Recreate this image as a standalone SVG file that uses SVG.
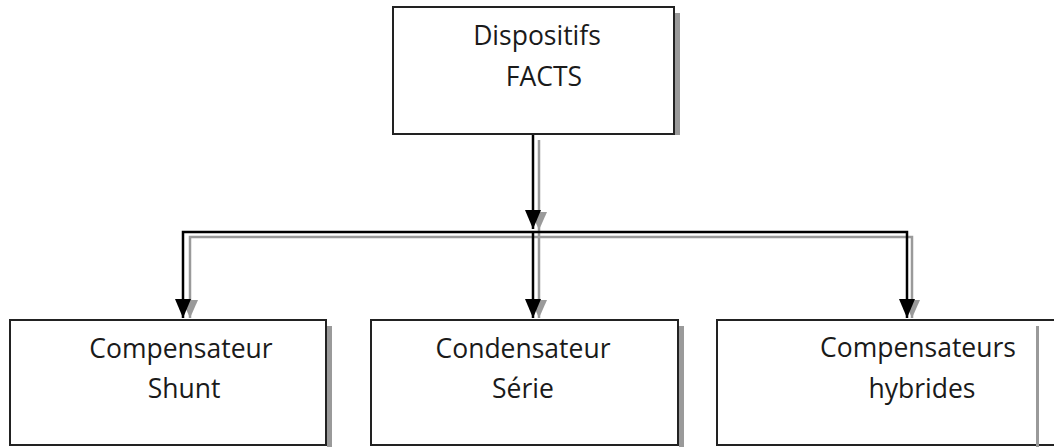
<svg xmlns="http://www.w3.org/2000/svg" width="1054" height="447" viewBox="0 0 1054 447">
  <defs>
    <style>
      .box { fill: #ffffff; stroke: #222222; stroke-width: 2; }
      .shadow { fill: #9a9a9a; stroke: none; }
      .txt { font-family: "Open Sans", "Liberation Sans", sans-serif; font-size: 26.5px; fill: #1a1a1a; text-anchor: middle; }
      .ln { fill: none; stroke: #000000; stroke-width: 2.5; }
      .lns { fill: none; stroke: #9a9a9a; stroke-width: 2.5; }
    </style>
  </defs>
  <rect width="1054" height="447" fill="#ffffff"/>

  <g id="connectors">
    <!-- shadows -->
    <path class="lns" d="M539,140 L539,318"/>
    <path class="lns" d="M190,318 L190,237 L912,237 L912,318"/>
    <path d="M531,212 L547,212 L539,230 Z" fill="#9a9a9a"/>
    <path d="M182,300 L198,300 L190,318 Z" fill="#9a9a9a"/>
    <path d="M531,300 L547,300 L539,318 Z" fill="#9a9a9a"/>
    <path d="M904,300 L920,300 L912,318 Z" fill="#9a9a9a"/>
    <!-- main lines -->
    <path class="ln" d="M533,134 L533,229"/>
    <path d="M525,210 L541,210 L533,229 Z" fill="#000000"/>
    <path class="ln" d="M183,318 L183,232 L907,232 L907,318"/>
    <path class="ln" d="M533,232 L533,318"/>
    <path d="M175,299 L191,299 L183,318 Z" fill="#000000"/>
    <path d="M525,299 L541,299 L533,318 Z" fill="#000000"/>
    <path d="M899,299 L915,299 L907,318 Z" fill="#000000"/>
  </g>

  <g id="node-facts">
    <rect class="shadow" x="675" y="13" width="5" height="122"/>
    <rect class="box" x="393" y="7" width="281" height="127"/>
    <text class="txt" x="537" y="45">Dispositifs</text>
    <text class="txt" x="544" y="86">FACTS</text>
  </g>

  <g id="node-shunt">
    <rect class="shadow" x="327" y="326" width="5" height="121"/>
    <rect class="box" x="10" y="320" width="316" height="125"/>
    <text class="txt" x="181" y="358">Compensateur</text>
    <text class="txt" x="184" y="398">Shunt</text>
  </g>

  <g id="node-serie">
    <rect class="shadow" x="679" y="326" width="5" height="121"/>
    <rect class="box" x="371" y="320" width="307" height="125"/>
    <text class="txt" x="523" y="358">Condensateur</text>
    <text class="txt" x="523" y="398">Série</text>
  </g>

  <g id="node-hybrides">
    <rect class="box" x="717" y="320" width="345" height="125"/>
    <rect class="shadow" x="1036" y="326" width="3" height="121"/>
    <text class="txt" x="918" y="357">Compensateurs</text>
    <text class="txt" x="922" y="398">hybrides</text>
  </g>
</svg>
